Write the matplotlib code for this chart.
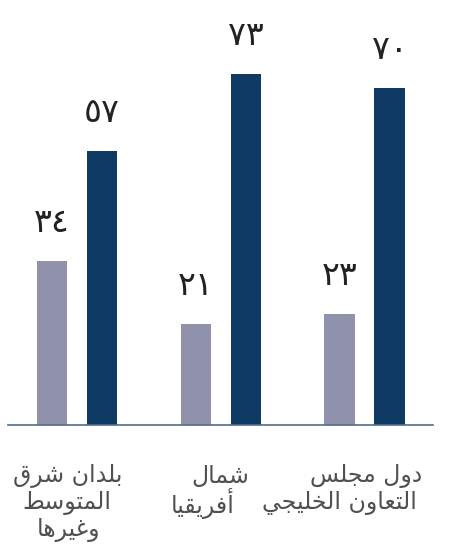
import matplotlib.pyplot as plt
import numpy as np

# data
groups = [['بلدان شرق', 'المتوسط', 'وغيرها'],
          ['شمال', 'أفريقيا'],
          ['دول مجلس', 'التعاون الخليجي']]
light_vals = [34, 21, 23]
dark_vals = [57, 73, 70]

light_color = '#8f92aa'
dark_color = '#0f3a63'
axis_color = '#4f6d8c'

# per-line horizontal nudge of the category labels (points)
line_shift = [[-7, -7, -6], [0, -13], [1, -18]]

# arabic presentation forms: char -> (isolated codepoint, number of forms)
FORMS = {
    'ا': (0xFE8D, 2), 'أ': (0xFE83, 2), 'د': (0xFEA9, 2), 'ر': (0xFEAD, 2),
    'و': (0xFEED, 2),
    'ب': (0xFE8F, 4), 'ت': (0xFE95, 4), 'ج': (0xFE9D, 4), 'خ': (0xFEA5, 4),
    'س': (0xFEB1, 4), 'ش': (0xFEB5, 4), 'ط': (0xFEC1, 4), 'ع': (0xFEC9, 4),
    'غ': (0xFECD, 4), 'ف': (0xFED1, 4), 'ق': (0xFED5, 4), 'ل': (0xFEDD, 4),
    'م': (0xFEE1, 4), 'ن': (0xFEE5, 4), 'ه': (0xFEE9, 4), 'ي': (0xFEF1, 4),
}


def shape(s):
    # join letters and flip to visual order (matplotlib has no bidi)
    out = []
    for i, c in enumerate(s):
        if c not in FORMS:
            out.append(c)
            continue
        base, n = FORMS[c]
        prev = s[i - 1] if i > 0 else ''
        nxt = s[i + 1] if i + 1 < len(s) else ''
        jp = prev in FORMS and FORMS[prev][1] == 4
        jn = n == 4 and nxt in FORMS
        if jp and jn:
            off = 3
        elif jp:
            off = 1
        elif jn:
            off = 2
        else:
            off = 0
        out.append(chr(base + off))
    return ''.join(reversed(out))


to_arabic = str.maketrans('0123456789', '٠١٢٣٤٥٦٧٨٩')

plt.rcParams['font.family'] = ['DejaVu Sans']

fig = plt.figure(figsize=(4.54, 5.48), dpi=100)
ax = fig.add_axes([8 / 454, 123 / 548, 425 / 454, 409 / 548])

x = np.arange(len(groups))
off = 0.174
w = 0.21
ax.bar(x - off, light_vals, w, color=light_color)
ax.bar(x + off, dark_vals, w, color=dark_color)

for xi, v in zip(x - off, light_vals):
    ax.annotate(str(v).translate(to_arabic), (xi, v), xytext=(0, 16),
                textcoords='offset points', ha='center', va='bottom',
                fontsize=24, color='#222222')
for xi, v in zip(x + off, dark_vals):
    ax.annotate(str(v).translate(to_arabic), (xi, v), xytext=(0, 16),
                textcoords='offset points', ha='center', va='bottom',
                fontsize=24, color='#222222')

for xi, lines, shifts in zip(x, groups, line_shift):
    for k, (line, sh) in enumerate(zip(lines, shifts)):
        ax.annotate(shape(line), (xi, 0), xytext=(sh, -37 - 19.2 * k),
                    textcoords='offset points', ha='center', va='center',
                    fontsize=17, color='#505050')

ax.set_xlim(-0.48, 2.477)
ax.set_ylim(0, 85)
for s in ['top', 'left', 'right']:
    ax.spines[s].set_visible(False)
ax.spines['bottom'].set_color(axis_color)
ax.spines['bottom'].set_linewidth(1.2)
ax.set_xticks([])
ax.set_yticks([])

fig.savefig('out.png', dpi=100)
